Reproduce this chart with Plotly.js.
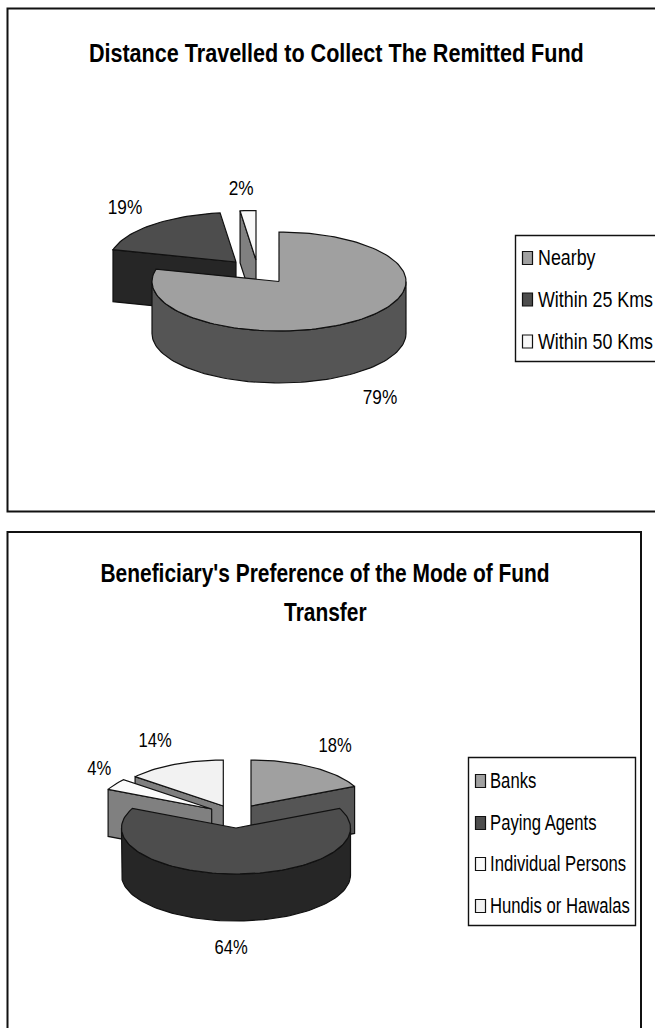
<!DOCTYPE html>
<html>
<head>
<meta charset="utf-8">
<script src="https://cdn.plot.ly/plotly-3.0.1.min.js"></script>
<style>html,body{margin:0;padding:0;background:#fff;overflow:hidden}#chart{width:655px;height:1028px}</style>
</head>
<body>
<div id="chart"></div>
<script>
// Chart data
const title1 = "Distance Travelled to Collect The Remitted Fund";
const categories1 = ["Nearby", "Within 25 Kms", "Within 50 Kms"];
const values1 = [79, 19, 2];
const title2Lines = ["Beneficiary's Preference of the Mode of Fund", "Transfer"];
const categories2 = ["Banks", "Paying Agents", "Individual Persons", "Hundis or Hawalas"];
const values2 = [18, 64, 4, 14];

// Styles and geometry
const FONT = '"Liberation Sans", Arial, sans-serif';
const topColors1 = ["#a0a0a0", "#4d4d4d", "#f8f8f8"];
const wallColors1 = ["#555555", "#262626", "#808080"];
const topColors2 = ["#a0a0a0", "#4d4d4d", "#fbfbfb", "#f2f2f2"];
const wallColors2 = ["#555555", "#262626", "#808080", "#7f7f7f"];

const pie1 = {rx:127, ry:49.5, depth:52,
  centers:[[279,281.5],[236,262],[256,260]], order:[2,1,0]};
const pie2 = {rx:114.5, ry:46, depth:47,
  centers:[[251,806],[236,828],[211.7,809],[223.3,806]], order:[3,2,0,1]};

const traces = [];
const rad = d => d*Math.PI/180;
function pt(c,p,t,dz){ return [c[0]+p.rx*Math.sin(rad(t)), c[1]-p.ry*Math.cos(rad(t))+(dz||0)]; }
function arc(c,p,a,b,dz){
  const out=[], n=Math.max(2,Math.ceil(Math.abs(b-a)/2));
  for(let i=0;i<=n;i++) out.push(pt(c,p,a+(b-a)*i/n,dz));
  return out;
}
function poly(pts,color){
  traces.push({type:'scatter',mode:'lines',x:pts.map(q=>q[0]),y:pts.map(q=>q[1]),
    fill:'toself',fillcolor:color,line:{color:'#111',width:1.2},hoverinfo:'skip',showlegend:false});
}
function drawPie(values,p,tops,walls){
  const total=values.reduce((a,b)=>a+b,0), starts=[]; let s=0;
  values.forEach(v=>{starts.push(s); s+=v/total*360;});
  p.order.forEach(i=>{
    const c=p.centers[i], t0=starts[i], t1=t0+values[i]/total*360, d=p.depth;
    const apex=c, apexLow=[c[0],c[1]+d];
    if(Math.sin(rad(t0))<-1e-6){ const a=pt(c,p,t0),b=pt(c,p,t0,d); poly([apex,a,b,apexLow,apex],walls[i]); }
    if(Math.sin(rad(t1))>1e-6){ const a=pt(c,p,t1),b=pt(c,p,t1,d); poly([apex,a,b,apexLow,apex],walls[i]); }
    const w0=Math.max(t0,90), w1=Math.min(t1,270);
    if(w1>w0){ poly(arc(c,p,w0,w1,0).concat(arc(c,p,w1,w0,d)).concat([pt(c,p,w0)]),walls[i]); }
    poly([apex].concat(arc(c,p,t0,t1,0)).concat([apex]),tops[i]);
  });
}
drawPie(values1,pie1,topColors1,wallColors1);
drawPie(values2,pie2,topColors2,wallColors2);

const annotations=[], shapes=[], squeeze=[];
function text(x,y,t,size,bold,anchor,narrow){
  squeeze.push(narrow);
  annotations.push({xref:'x',yref:'y',x,y,text:bold?'<b>'+t+'</b>':t,showarrow:false,
    xanchor:anchor||'center',yanchor:'middle',align:'center',
    font:{family:FONT,size,color:'#000'},borderpad:0,borderwidth:0});
}
function box(x0,y0,x1,y1,fill,w){
  shapes.push({type:'rect',xref:'x',yref:'y',x0,y0,x1,y1,fillcolor:fill||'rgba(0,0,0,0)',line:{color:'#111',width:w||1},layer:'above'});
}
function pct(v,total){ return Math.round(v/total*100)+'%'; }

// Chart frames
box(7.5,8.5,660,511.5,null,2);
box(7.5,532,641,1040,null,2);

// Titles
text(336,53,title1,26,true,'center',0.83);
text(325,573,title2Lines[0],26,true,'center',0.805);
text(325,612,title2Lines[1],26,true,'center',0.805);

// Data labels
const labelPos1=[[380,396],[125,206],[241,187]];
values1.forEach((v,i)=>text(labelPos1[i][0],labelPos1[i][1],pct(v,100),21,false,'center',0.82));
const labelPos2=[[335,744],[231,946],[99,767],[155,739]];
values2.forEach((v,i)=>text(labelPos2[i][0],labelPos2[i][1],pct(v,100),21,false,'center',0.79));

// Legends
box(515.5,235.5,660,361.5,'#fff',1.4);
const rows1=[258,299.5,341.5];
categories1.forEach((c,i)=>{
  box(522.5,rows1[i]-6.5,532.5,rows1[i]+6.5,topColors1[i],1.2);
  text(538,rows1[i],c,21.5,false,'left',0.83);
});
box(468.5,757.5,635.5,925.5,'#fff',1.4);
const rows2=[781,823,864,906];
categories2.forEach((c,i)=>{
  box(475.5,rows2[i]-6.5,485.5,rows2[i]+6.5,topColors2[i],1.2);
  text(490,rows2[i],c,21.5,false,'left',0.775);
});

Plotly.newPlot('chart',traces,{
  width:655,height:1028,margin:{l:0,r:0,t:0,b:0},
  paper_bgcolor:'#fff',plot_bgcolor:'#fff',showlegend:false,
  xaxis:{range:[0,655],visible:false,fixedrange:true},
  yaxis:{range:[1028,0],visible:false,fixedrange:true},
  annotations,shapes
},{displayModeBar:false,staticPlot:true}).then(gd=>{
  // The reference lettering is a condensed face: narrow each text horizontally.
  gd.querySelectorAll('.annotation').forEach(g=>{
    const i=+g.getAttribute('data-index');
    const el=g.querySelector('text.annotation-text');
    if(!el) return;
    el.style.transformBox='fill-box';
    el.style.transformOrigin=annotations[i].xanchor==='left'?'left center':'center center';
    el.style.transform='scaleX('+squeeze[i]+')';
  });
});
</script>
</body>
</html>
